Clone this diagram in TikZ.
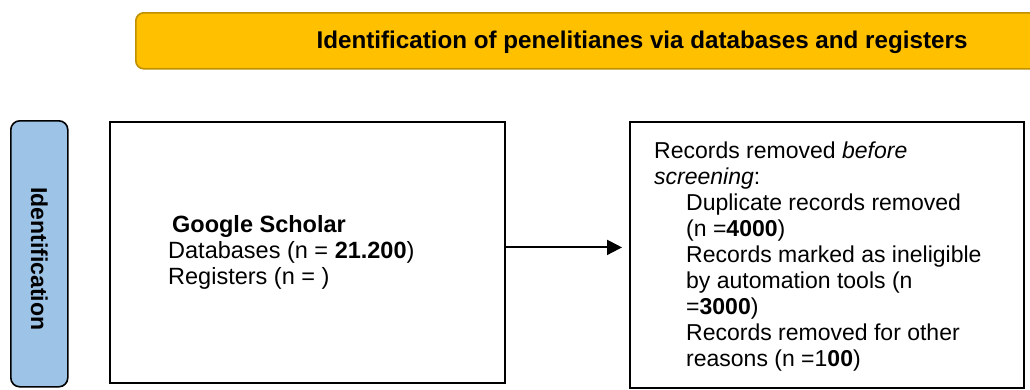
\documentclass[tikz,border=0pt]{standalone}
\usepackage{fontspec}
\setmainfont{Liberation Sans}
\usetikzlibrary{arrows.meta}
\definecolor{bannerfill}{HTML}{FFC000}
\definecolor{bannerline}{HTML}{BF9000}
\definecolor{tabfill}{HTML}{9DC3E6}
\tikzset{
  banner/.style={draw=bannerline, fill=bannerfill, line width=1.6pt, rounded corners=8pt, anchor=north west, inner sep=0pt},
  sidetab/.style={draw=black, fill=tabfill, line width=1.6pt, rounded corners=9pt, anchor=north west, inner sep=0pt},
  flowbox/.style={draw=black, line width=1.8pt, anchor=north west, inner sep=0pt},
  boxtext/.style={anchor=north west, inner sep=0pt, align=left},
  conn/.style={line width=2pt, -{Triangle[length=15pt,width=15pt]}, shorten >=7pt},
}
\begin{document}
\begin{tikzpicture}[x=1pt,y=-1pt]
\useasboundingbox (0,0) rectangle (1030,389);
\clip (0,0) rectangle (1030,389);
% banner
\node[banner, minimum width=940pt, minimum height=56pt] (ban) at (135,12) {};
\node[anchor=base, inner sep=0pt, font=\fontsize{24.2}{27}\selectfont\bfseries] (bantext) at (642,48.5) {Identification of penelitianes via databases and registers};
% side tab
\node[sidetab, minimum width=57pt, minimum height=266pt] (tab) at (10,120) {};
\node[rotate=-90, inner sep=0pt, font=\fontsize{23}{26}\selectfont\bfseries] (tabtext) at ([yshift=-5pt]tab.center) {Identification};
% box 1
\node[flowbox, minimum width=395pt, minimum height=261pt] (box1) at (109,121) {};
\node[boxtext, font=\fontsize{23.5}{26}\selectfont] (box1text) at (168,232-20) {\rule{0pt}{20pt}\,\textbf{Google Scholar}\\Databases (n = \textbf{21.200})\\Registers (n = )};
% box 2
\node[flowbox, minimum width=394pt, minimum height=266pt] (box2) at (629,121) {};
\node[boxtext, font=\fontsize{23}{26}\selectfont] (box2text) at (654,158-20) {\rule{0pt}{20pt}Records removed \textit{before}\\\textit{screening}:\\
\hspace*{32pt}Duplicate records removed\\\hspace*{32pt}(n =\textbf{4000})\\
\hspace*{32pt}Records marked as ineligible\\\hspace*{32pt}by automation tools (n\\\hspace*{32pt}=\textbf{3000})\\
\hspace*{32pt}Records removed for other\\\hspace*{32pt}reasons (n =1\textbf{00})};
% connector
\draw[conn] ([yshift=5pt]box1.east) -- ([yshift=5pt]box1.east -| box2.west);
\end{tikzpicture}
\end{document}
